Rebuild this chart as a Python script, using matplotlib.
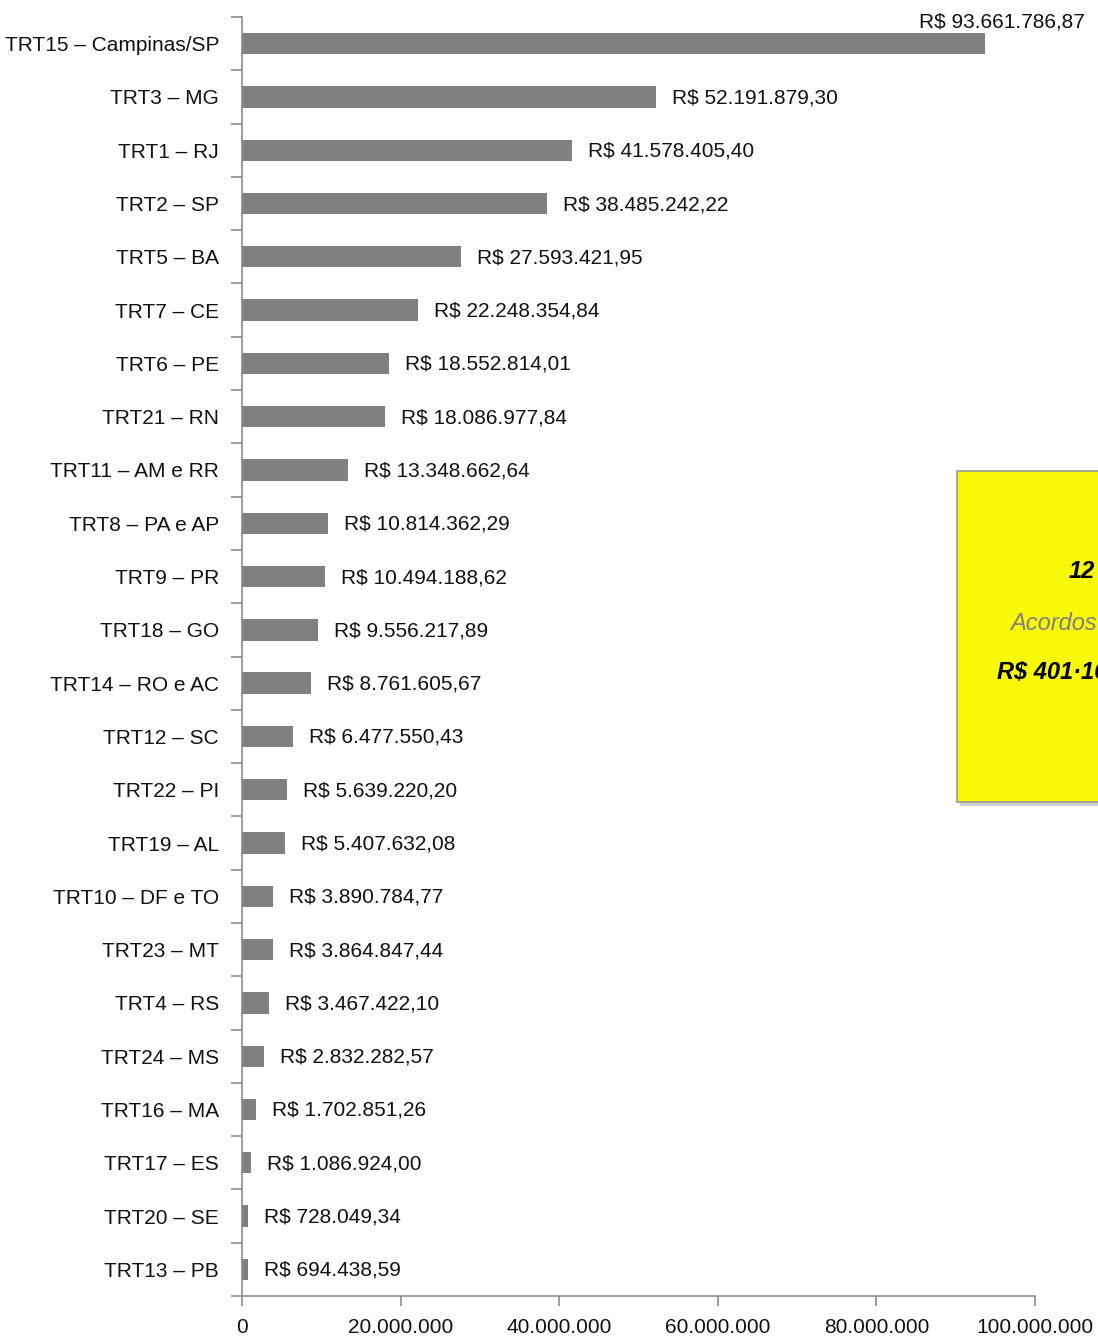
import matplotlib
matplotlib.use("Agg")
import matplotlib.pyplot as plt
from matplotlib.patches import Rectangle
from matplotlib.ticker import FixedLocator

categories = ["TRT15 – Campinas/SP", "TRT3 – MG", "TRT1 – RJ", "TRT2 – SP", "TRT5 – BA",
              "TRT7 – CE", "TRT6 – PE", "TRT21 – RN", "TRT11 – AM e RR", "TRT8 – PA e AP",
              "TRT9 – PR", "TRT18 – GO", "TRT14 – RO e AC", "TRT12 – SC", "TRT22 – PI",
              "TRT19 – AL", "TRT10 – DF e TO", "TRT23 – MT", "TRT4 – RS", "TRT24 – MS",
              "TRT16 – MA", "TRT17 – ES", "TRT20 – SE", "TRT13 – PB"]
values = [93661786.87, 52191879.30, 41578405.40, 38485242.22, 27593421.95,
          22248354.84, 18552814.01, 18086977.84, 13348662.64, 10814362.29,
          10494188.62, 9556217.89, 8761605.67, 6477550.43, 5639220.20,
          5407632.08, 3890784.77, 3864847.44, 3467422.10, 2832282.57,
          1702851.26, 1086924.00, 728049.34, 694438.59]
xticks = [0, 20000000, 40000000, 60000000, 80000000, 100000000]
xticklabels = ["0", "20.000.000", "40.000.000", "60.000.000", "80.000.000", "100.000.000"]
box_line1 = "12"
box_line2 = "Acordos"


def brl(v):
    s = f"{v:,.2f}"
    s = s.replace(",", "X").replace(".", ",").replace("X", ".")
    return "R$ " + s


W, H = 1098, 1336
fig = plt.figure(figsize=(W / 100, H / 100), dpi=100)
fig.patch.set_facecolor("white")
font = ["Liberation Sans", "DejaVu Sans"]
plt.rcParams["font.family"] = font
FS = 15

ax = fig.add_axes([242 / W, 1 - 1296 / H, (1035 - 242) / W, (1296 - 17) / H])
ypos = list(range(len(categories)))
ax.barh(ypos, values, height=0.4, color="#808080")
ax.set_ylim(len(categories) - 0.5, -0.5)
ax.set_xlim(0, 100000000)

for sp in ["top", "right"]:
    ax.spines[sp].set_visible(False)
for sp in ["left", "bottom"]:
    ax.spines[sp].set_color("#8c8c8c")
    ax.spines[sp].set_linewidth(1.2)

ax.set_yticks(ypos)
ax.set_yticklabels(categories, fontsize=FS, color="#111111")
ax.tick_params(axis="y", which="major", length=0, pad=16.5)
ax.yaxis.set_minor_locator(FixedLocator([i - 0.5 for i in range(len(categories) + 1)]))
ax.tick_params(axis="y", which="minor", length=8, color="#8c8c8c", width=1.2)

ax.set_xticks(xticks)
ax.set_xticklabels(xticklabels, fontsize=FS, color="#111111")
ax.tick_params(axis="x", which="major", length=7, color="#8c8c8c", width=1.2, pad=9)

for i, v in enumerate(values):
    if i == 0:
        ax.annotate(brl(v), xy=(v, i), xytext=(100, 22), textcoords="offset pixels",
                    ha="right", va="center", fontsize=FS, color="#111111",
                    annotation_clip=False)
    else:
        ax.annotate(brl(v), xy=(v, i), xytext=(16, -1), textcoords="offset pixels",
                    ha="left", va="center", fontsize=FS, color="#111111")

# yellow note box (extends past right edge, as in the reference)
bx0, by0, bx1, by1 = 957, 471, 1120, 802
shadow = Rectangle(((bx0 + 3) / W, 1 - (by1 + 4) / H), (bx1 - bx0) / W, (by1 - by0) / H,
                   transform=fig.transFigure, facecolor="#bbbbbb", edgecolor="none",
                   alpha=0.7, zorder=5)
box = Rectangle((bx0 / W, 1 - by1 / H), (bx1 - bx0) / W, (by1 - by0) / H,
                transform=fig.transFigure, facecolor="#F8F808", edgecolor="#9a9a9a",
                linewidth=1.2, zorder=6)
fig.patches.extend([shadow, box])

total = sum(values)
fig.text(1069 / W, 1 - 572 / H, box_line1, fontsize=17, fontweight="bold", style="italic",
         color="black", ha="left", va="center", zorder=7)
fig.text(1010 / W, 1 - 623 / H, box_line2, fontsize=17, style="italic",
         color="#808080", ha="left", va="center", zorder=7)
fig.text(997 / W, 1 - 672 / H, brl(total).replace(".", "·"), fontsize=17, fontweight="bold",
         style="italic", color="black", ha="left", va="center", zorder=7)

fig.savefig("out.png", dpi=100)
